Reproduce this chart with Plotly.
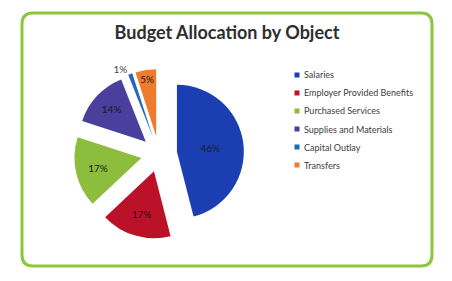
import plotly.graph_objects as go

categories = ["Salaries", "Employer Provided Benefits", "Purchased Services",
              "Supplies and Materials", "Capital Outlay", "Transfers"]
values = [46, 17, 17, 14, 1, 5]
colors = ["#1b3fb3", "#bb1129", "#8cbd3c", "#4a3f9c", "#2267b8", "#ef7b2c"]
text_positions = ["inside", "inside", "inside", "inside", "outside", "inside"]

W, H = 452, 281
FONT = "Lato"


def px(x):
    return x / W


def py(y):
    return 1 - y / H


fig = go.Figure()
fig.add_trace(go.Pie(
    labels=categories,
    values=values,
    sort=False,
    direction="clockwise",
    rotation=0,
    pull=[0.27] * len(values),
    marker=dict(colors=colors, line=dict(width=0)),
    texttemplate="%{percent:.0%}",
    textposition=text_positions,
    insidetextorientation="horizontal",
    textfont=dict(family=FONT, size=10, color="#1a1a1a"),
    outsidetextfont=dict(family=FONT, size=10, color="#444444"),
    domain=dict(x=[px(74), px(244)], y=[py(239), py(69)]),
    showlegend=False,
    hoverinfo="label+percent",
))

# rounded green frame
x0, x1, y0, y1, r = 22, 432, 13, 266, 11
path = (
    f"M {px(x0 + r)},{py(y0)} L {px(x1 - r)},{py(y0)} "
    f"Q {px(x1)},{py(y0)} {px(x1)},{py(y0 + r)} "
    f"L {px(x1)},{py(y1 - r)} Q {px(x1)},{py(y1)} {px(x1 - r)},{py(y1)} "
    f"L {px(x0 + r)},{py(y1)} Q {px(x0)},{py(y1)} {px(x0)},{py(y1 - r)} "
    f"L {px(x0)},{py(y0 + r)} Q {px(x0)},{py(y0)} {px(x0 + r)},{py(y0)} Z"
)
shapes = [dict(type="path", xref="paper", yref="paper", path=path,
               line=dict(color="#8cc63f", width=3), fillcolor="rgba(0,0,0,0)")]

# legend (manual, to match compact symbol spacing)
annotations = []
leg_x, leg_y0, leg_dy, sq = 297, 75, 18, 5
for i, (cat, col) in enumerate(zip(categories, colors)):
    yc = leg_y0 + i * leg_dy
    shapes.append(dict(type="rect", xref="paper", yref="paper",
                       x0=px(leg_x - sq / 2), x1=px(leg_x + sq / 2),
                       y0=py(yc + sq / 2), y1=py(yc - sq / 2),
                       fillcolor=col, line=dict(width=0)))
    annotations.append(dict(text=cat, xref="paper", yref="paper",
                            x=px(leg_x + 5), y=py(yc), xanchor="left", yanchor="middle",
                            showarrow=False,
                            font=dict(family=FONT, size=9, color="#404040")))

fig.update_layout(
    width=W, height=H,
    margin=dict(l=0, r=0, t=0, b=0),
    paper_bgcolor="white",
    plot_bgcolor="white",
    title=dict(text="<b>Budget Allocation by Object</b>", x=px(227), xanchor="center",
               y=py(33), yanchor="middle",
               font=dict(family=FONT, size=18, color="#2e2e2e")),
    shapes=shapes,
    annotations=annotations,
)

fig.write_html("out.html")
